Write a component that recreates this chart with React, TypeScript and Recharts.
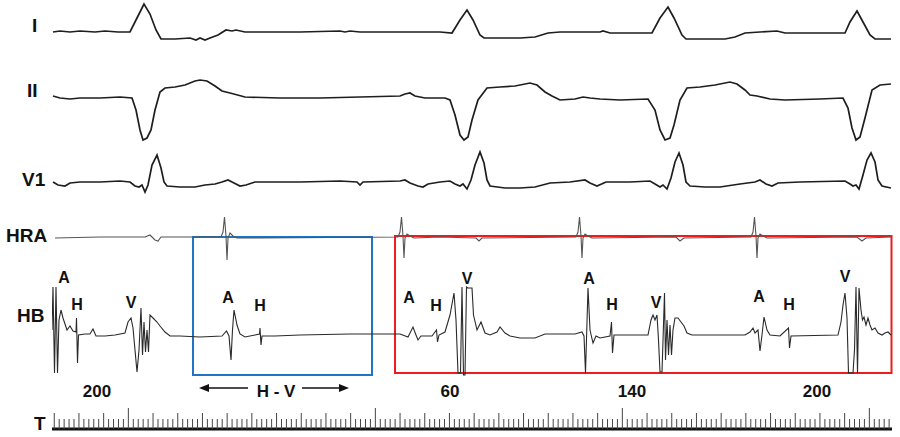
import React from 'react';
import { ComposedChart, Line, XAxis, YAxis, ReferenceArea } from 'recharts';

// time in ms (about 2 ms per pixel of the strip), amplitude in display units, 0 = baseline
const leadI: [number, number][] = [
  [2, 0], [16, 1], [36, 0], [56, 1], [86, 0], [106, 1], [132, 0], [156, 0], [170, 14], [184, 28],
  [196, 18], [208, 2], [218, -7], [246, -7], [276, -6], [288, -8], [296, -6], [306, -8], [316, -6],
  [332, -3], [348, 2], [360, 1], [368, 2], [386, 0], [416, 0], [496, 0], [576, 1], [586, 0], [596, 1],
  [616, 0], [696, 0], [776, 0], [800, -1], [816, 12], [830, 22], [842, 12], [856, -3], [864, -6],
  [896, -6], [936, -6], [966, -5], [992, -1], [1016, 0], [1096, 0], [1102, 1], [1116, -1], [1200, -1],
  [1216, 14], [1232, 25], [1244, 14], [1260, -3], [1268, -7], [1296, -7], [1346, -7], [1366, -5],
  [1386, -1], [1416, 0], [1450, 1], [1466, -1], [1586, -1], [1596, 10], [1610, 21], [1622, 10],
  [1636, -3], [1646, -7], [1678, -7],
];

const leadII: [number, number][] = [
  [2, 2], [16, 0], [36, -1], [56, 0], [96, 0], [136, 1], [160, 0], [168, -12], [176, -32], [182, -42],
  [190, -40], [198, -32], [206, -12], [216, 6], [226, 10], [246, 11], [266, 13], [286, 17], [296, 18],
  [310, 17], [326, 12], [340, 7], [356, 5], [386, 1], [456, 0], [536, 0], [616, 1], [696, 2], [706, 4],
  [716, 5], [726, 2], [746, 0], [786, 0], [796, -2], [806, -17], [816, -37], [824, -42], [832, -39],
  [840, -22], [852, -2], [870, 10], [896, 11], [926, 12], [956, 15], [970, 13], [986, 6], [1000, 2],
  [1016, -2], [1046, -1], [1062, 1], [1076, 0], [1096, -1], [1136, -2], [1192, -1], [1206, -12],
  [1216, -32], [1226, -42], [1236, -40], [1244, -27], [1256, -2], [1270, 10], [1296, 11], [1326, 13],
  [1356, 16], [1370, 14], [1386, 8], [1396, 3], [1410, 2], [1436, -1], [1466, -2], [1536, -1],
  [1582, 0], [1592, -10], [1600, -30], [1608, -42], [1616, -39], [1626, -20], [1640, 8], [1656, 13],
  [1678, 14],
];

const leadV1: [number, number][] = [
  [2, 0], [12, -3], [26, -4], [36, -1], [56, 0], [96, 0], [136, 1], [156, 0], [166, -4], [174, -5],
  [180, -3], [186, -10], [192, -3], [200, 17], [210, 27], [218, 14], [224, 0], [230, -4], [256, -5],
  [286, -5], [306, -3], [326, -2], [340, 0], [352, 2], [364, -1], [376, -4], [388, -3], [406, 0],
  [496, 0], [576, 1], [610, 0], [616, -3], [622, 0], [696, 1], [706, 2], [716, -1], [732, -4],
  [742, -5], [752, -2], [776, 0], [796, 1], [806, -2], [816, -4], [822, -2], [830, -7], [838, 2],
  [846, 17], [856, 30], [864, 19], [870, 2], [876, -4], [906, -6], [936, -6], [966, -5], [996, -1],
  [1036, 0], [1066, 2], [1076, -1], [1090, -4], [1108, 0], [1156, 0], [1196, 1], [1206, -2],
  [1216, -5], [1222, -3], [1230, -7], [1238, 4], [1246, 20], [1254, 29], [1262, 17], [1268, 0],
  [1276, -4], [1306, -5], [1336, -5], [1376, -2], [1406, 0], [1416, 2], [1428, -2], [1440, -4],
  [1452, -1], [1496, 0], [1586, 1], [1596, -2], [1602, -4], [1608, -3], [1614, -7], [1622, 7],
  [1630, 22], [1638, 29], [1646, 20], [1652, 2], [1660, -4], [1678, -6],
];

const leadHRA: [number, number][] = [
  [6, -1], [96, 0], [186, 0], [196, 2], [206, -3], [212, -4], [218, 0], [338, 0], [342, 5], [345, 20],
  [348, 1], [350, -23], [352, -1], [356, 4], [362, 1], [370, -1], [416, -1], [692, 0], [696, 5],
  [699, 20], [702, 1], [704, -21], [706, -1], [710, 3], [716, 1], [724, -1], [776, 0], [848, -1],
  [854, -4], [860, -1], [1048, 0], [1052, 5], [1055, 20], [1058, 1], [1060, -21], [1062, -1],
  [1066, 3], [1072, 1], [1080, -1], [1248, 0], [1256, -4], [1264, -1], [1398, 0], [1402, 5],
  [1405, 20], [1408, 1], [1410, -21], [1412, -1], [1416, 3], [1422, 1], [1430, -1], [1610, 0],
  [1620, -4], [1628, -1], [1678, 0],
];

const leadHB: [number, number][] = [
  [0, 5], [2, 48], [5, -38], [8, 48], [11, -38], [14, 15], [18, 25], [22, 17], [26, 11], [30, 5],
  [36, 9], [42, 4], [48, 3], [49, 17], [51, -28], [53, 0], [66, 1], [76, 1], [82, 6], [88, -1],
  [106, -1], [126, 0], [146, 2], [152, 13], [158, 17], [162, 7], [166, -15], [170, -37], [174, -15],
  [178, 27], [181, -20], [184, 13], [187, -17], [190, 5], [193, -17], [196, 20], [202, 17], [210, 13],
  [216, 9], [226, 3], [236, -1], [256, -1], [296, -2], [340, -1], [349, 4], [354, -1], [358, -25],
  [361, 5], [364, 25], [370, 10], [376, 1], [386, -2], [406, 0], [415, 1], [416, 7], [418, -10],
  [420, -1], [446, -1], [496, 0], [596, 1], [696, 1], [712, -2], [722, 8], [728, 0], [732, -5],
  [738, -1], [760, -1], [769, 5], [771, -7], [774, 0], [786, 3], [796, 20], [804, 42], [808, 15],
  [812, -38], [817, -38], [820, 48], [823, -40], [826, -40], [829, 48], [832, 47], [840, 47],
  [843, 20], [850, 5], [858, 13], [866, 2], [876, 0], [890, 3], [896, 8], [906, 2], [916, -1],
  [936, -3], [966, -3], [986, 1], [1046, 1], [1060, 3], [1064, -1], [1067, -38], [1072, 47],
  [1076, 5], [1082, -8], [1088, -1], [1096, -3], [1116, -1], [1119, 13], [1121, -18], [1124, 0],
  [1192, 0], [1198, 15], [1202, 20], [1206, 15], [1210, 20], [1213, -5], [1216, -37], [1220, -37],
  [1225, 42], [1227, -25], [1230, 15], [1233, -20], [1236, 10], [1239, -20], [1242, 5], [1246, 17],
  [1252, 17], [1258, 13], [1264, 9], [1270, 2], [1280, 0], [1386, 0], [1396, 3], [1402, 7],
  [1406, 2], [1412, 5], [1416, -16], [1420, 0], [1424, 18], [1430, 5], [1436, 0], [1456, -1],
  [1473, 7], [1475, -13], [1478, -1], [1572, 0], [1578, 13], [1582, 30], [1586, 42], [1590, 17],
  [1593, -38], [1602, -38], [1605, -15], [1608, 48], [1611, -38], [1614, 47], [1618, 25], [1621, 15],
  [1624, 18], [1628, 10], [1632, 17], [1636, 10], [1640, 5], [1646, 7], [1652, 2], [1660, 0],
  [1666, 2], [1672, 3], [1678, 0],
];

const channelNames = ['I', 'II', 'V1', 'HRA', 'HB', 'T'];
const intervalLabels = ['200', '60', '140', '200'];
const waveLabels = ['A', 'H', 'V', 'A', 'H', 'A', 'H', 'V', 'A', 'H', 'V', 'A', 'H', 'V'];

// ruler: one small tick per ~10 ms, medium every 5, tall every 50
const RULER_START = 4.5;
const RULER_STEP = 9.88;
const RULER_COUNT = 170;
const rulerTicks = Array.from({ length: RULER_COUNT }, (_, i) => RULER_START + i * RULER_STEP);

const W = 900;
const H = 437;
const PLOT_H = 429;

const traces = [
  { id: 'I', data: leadI, row: 32, color: '#1e1e1e', width: 1.7 },
  { id: 'II', data: leadII, row: 98, color: '#1e1e1e', width: 1.7 },
  { id: 'V1', data: leadV1, row: 182, color: '#1e1e1e', width: 1.7 },
  { id: 'HRA', data: leadHRA, row: 237, color: '#555', width: 1.1 },
  { id: 'HB', data: leadHB, row: 335, color: '#2a2a2a', width: 1.1 },
];

const nameSpots = [
  { x: 32, y: 32 }, { x: 27, y: 97 }, { x: 22, y: 186 }, { x: 6, y: 242 }, { x: 17, y: 322 }, { x: 34, y: 430 },
];
const waveSpots = [
  [64, 283], [77, 310], [131, 308], [228, 303], [260, 311], [409, 303], [436, 311],
  [467, 284], [589, 284], [612, 310], [656, 308], [759, 302], [789, 310], [845, 282],
];
const intervalSpots = [97, 450, 632, 817];

const font = '"Liberation Sans", Arial, sans-serif';

const RulerTick = (props: any) => {
  const { x, y, payload } = props;
  const k = Math.round((payload.value - RULER_START) / RULER_STEP) - 15;
  const h = k % 50 === 0 ? 21 : k % 5 === 0 ? 16 : 10;
  return <line x1={x} x2={x} y1={y - h} y2={y} stroke="#444" strokeWidth={1} />;
};

export default function App() {
  return (
    <div style={{ position: 'absolute', left: 0, top: 0, width: W, height: H, background: '#fff' }}>
      <ComposedChart width={W} height={H} margin={{ top: 0, right: 8, bottom: 0, left: 52 }}>
        <XAxis
          type="number"
          dataKey="t"
          domain={[0, 1680]}
          allowDataOverflow
          ticks={rulerTicks}
          interval={0}
          tickLine={false}
          tickSize={0}
          tickMargin={0}
          height={H - PLOT_H}
          axisLine={{ stroke: '#111', strokeWidth: 3 }}
          tick={RulerTick}
        />
        {traces.map((tr) => (
          <YAxis
            key={tr.id}
            yAxisId={tr.id}
            type="number"
            hide
            width={0}
            allowDataOverflow
            domain={[tr.row - PLOT_H, tr.row]}
          />
        ))}
        {traces.map((tr) => (
          <Line
            key={tr.id}
            yAxisId={tr.id}
            data={tr.data.map(([t, v]) => ({ t, v }))}
            dataKey="v"
            type="linear"
            stroke={tr.color}
            strokeWidth={tr.width}
            dot={false}
            activeDot={false}
            isAnimationActive={false}
          />
        ))}
        <ReferenceArea
          yAxisId="HB"
          x1={282}
          x2={640}
          y1={-40}
          y2={98}
          fill="none"
          fillOpacity={0}
          stroke="#1f74c4"
          strokeWidth={2}
          ifOverflow="visible"
        />
        <ReferenceArea
          yAxisId="HB"
          x1={686}
          x2={1679}
          y1={-38}
          y2={99}
          fill="none"
          fillOpacity={0}
          stroke="#ee1c1c"
          strokeWidth={2}
          ifOverflow="visible"
        />
      </ComposedChart>
      <svg
        width={W}
        height={H}
        style={{ position: 'absolute', left: 0, top: 0, pointerEvents: 'none' }}
        fontFamily={font}
        fontWeight="bold"
      >
        {channelNames.map((n, i) => (
          <text key={n} x={nameSpots[i].x} y={nameSpots[i].y} fontSize={19} fill="#111">
            {n}
          </text>
        ))}
        {waveLabels.map((w, i) => (
          <text key={i} x={waveSpots[i][0]} y={waveSpots[i][1]} fontSize={16} textAnchor="middle" fill="#111">
            {w}
          </text>
        ))}
        {intervalLabels.map((s, i) => (
          <text key={i} x={intervalSpots[i]} y={397} fontSize={17} textAnchor="middle" fill="#111">
            {s}
          </text>
        ))}
        <text x={276} y={397} fontSize={17} textAnchor="middle" fill="#111">
          H - V
        </text>
        <line x1={206} x2={248} y1={388} y2={388} stroke="#111" strokeWidth={1.6} />
        <polygon points="199,388 209,384 209,392" fill="#111" />
        <line x1={302} x2={342} y1={388} y2={388} stroke="#111" strokeWidth={1.6} />
        <polygon points="349,388 339,384 339,392" fill="#111" />
      </svg>
    </div>
  );
}
